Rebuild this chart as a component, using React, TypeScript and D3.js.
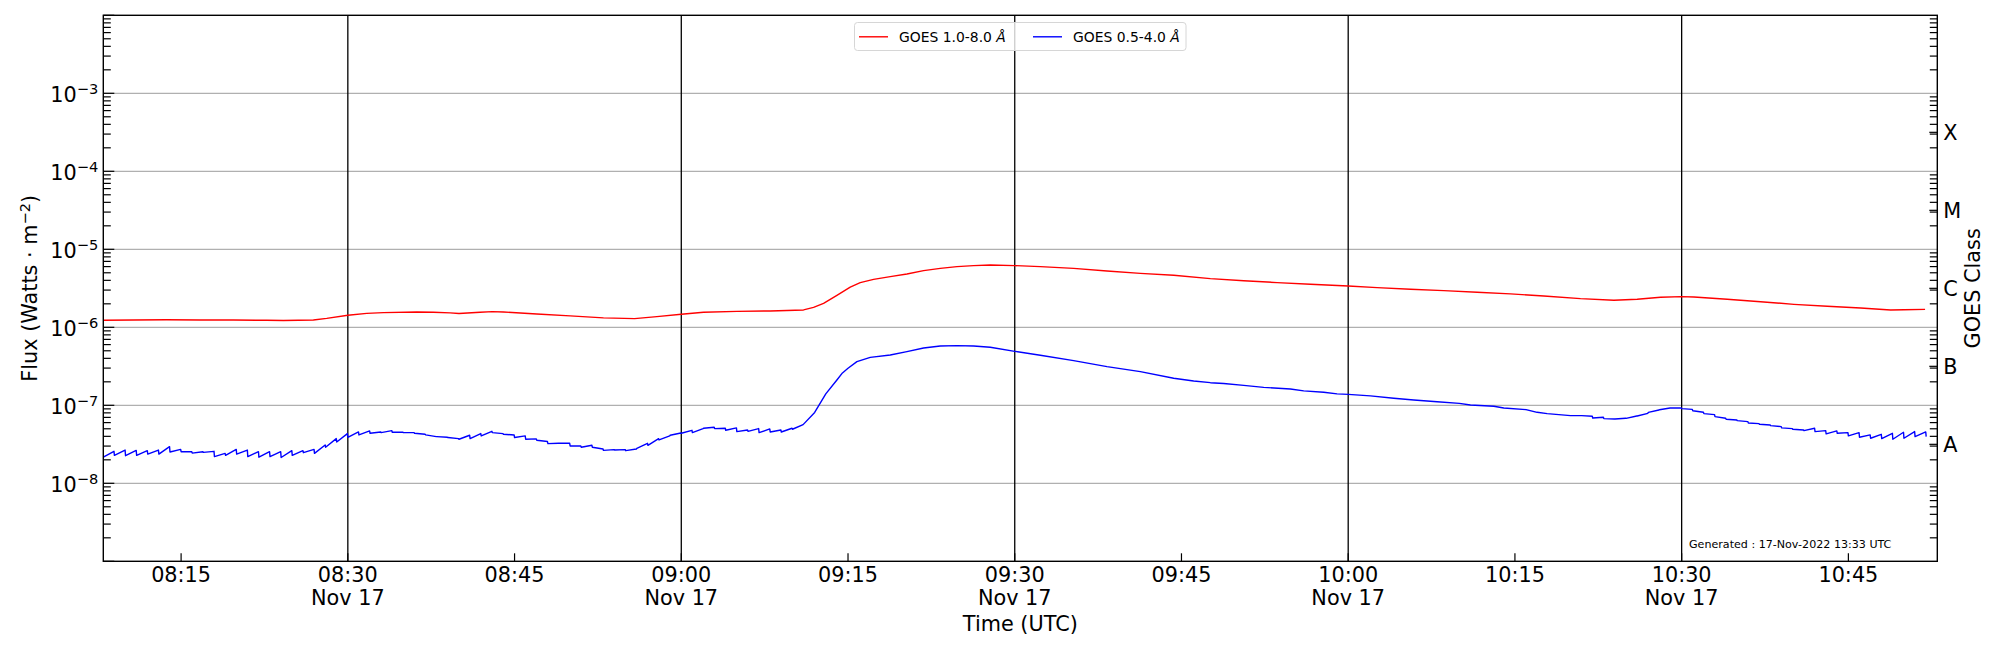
import { useRef, useEffect } from "react";
import * as d3 from "d3";

// Figure geometry (matplotlib-like axes box)
const WIDTH = 2000;
const HEIGHT = 650;
const PLOT = { left: 103.3, right: 1937.3, top: 15.3, bottom: 561.3 };
const FONT = "DejaVu Sans, sans-serif";
const LABEL_SIZE = 20.8;
const SUP_SIZE = 14.6;

// Time axis: minutes after 08:00 UTC on 17 Nov 2022
const DAY_START = Date.UTC(2022, 10, 17, 8, 0);
const X_RANGE_MIN = [8, 173];
const Y_DOMAIN: [number, number] = [1e-9, 1e-2];
const DATE_LABEL = "Nov 17";

const LABELED_DECADES = [-3, -4, -5, -6, -7, -8];
const CLASS_LABELS = ["A", "B", "C", "M", "X"];
const CLASS_FLUX = [3.16e-8, 3.16e-7, 3.16e-6, 3.16e-5, 3.16e-4];
const LEGEND_LABELS = ["GOES 1.0-8.0 ", "GOES 0.5-4.0 "];
const LEGEND_COLORS = ["#ff0000", "#0000ff"];
const GENERATED = "Generated : 17-Nov-2022 13:33 UTC";

// GOES 1.0-8.0 Å — [minute, flux]
const redFlux: [number, number][] = [
  [8, 1.23e-6], [10.7, 1.24e-6], [13.7, 1.25e-6], [16.7, 1.24e-6], [19.7, 1.24e-6],
  [22.7, 1.23e-6], [24.2, 1.22e-6], [26.9, 1.24e-6], [28.1, 1.3e-6], [30, 1.43e-6],
  [31.7, 1.51e-6], [33.2, 1.54e-6], [36.2, 1.57e-6], [37.7, 1.56e-6], [39.2, 1.53e-6],
  [40, 1.5e-6], [41.9, 1.56e-6], [43, 1.59e-6], [44, 1.57e-6], [47, 1.48e-6],
  [50, 1.4e-6], [53, 1.32e-6], [55.8, 1.29e-6], [57.8, 1.37e-6], [60, 1.47e-6],
  [62, 1.56e-6], [65, 1.6e-6], [68, 1.62e-6], [71, 1.67e-6], [71.9, 1.8e-6],
  [72.8, 2.03e-6], [74, 2.57e-6], [75.2, 3.28e-6], [76.1, 3.74e-6], [77.3, 4.12e-6],
  [78.8, 4.46e-6], [80.3, 4.83e-6], [81.8, 5.33e-6], [83.3, 5.7e-6], [84.8, 6.0e-6],
  [86.3, 6.18e-6], [87.8, 6.3e-6], [90, 6.18e-6], [92.3, 6.0e-6], [95.3, 5.7e-6],
  [98.3, 5.27e-6], [101.3, 4.92e-6], [104.3, 4.65e-6], [107.6, 4.21e-6], [110.6, 3.96e-6],
  [113.6, 3.74e-6], [116.6, 3.56e-6], [120, 3.39e-6], [122.6, 3.23e-6], [125.6, 3.07e-6],
  [128.6, 2.95e-6], [131.6, 2.81e-6], [134.6, 2.68e-6], [137.6, 2.52e-6], [140.9, 2.33e-6],
  [143.9, 2.22e-6], [146, 2.29e-6], [148.1, 2.43e-6], [150, 2.47e-6], [151.1, 2.45e-6],
  [154.1, 2.29e-6], [157.1, 2.13e-6], [160.1, 1.97e-6], [163.1, 1.86e-6], [166.1, 1.77e-6],
  [168.8, 1.67e-6], [170, 1.68e-6], [171.9, 1.7e-6],
];

// GOES 0.5-4.0 Å — sawtooth minutes: [minute, value after drop, value before next drop]
const blueSawEarly: [number, number, number][] = [
  [8, 2.16e-8, 2.57e-8], [9, 2.28e-8, 2.67e-8], [10, 2.26e-8, 2.64e-8], [11, 2.28e-8, 2.62e-8],
  [12, 2.37e-8, 2.67e-8], [13, 2.37e-8, 2.95e-8], [14, 2.52e-8, 2.72e-8], [15, 2.54e-8, 2.54e-8],
  [16, 2.44e-8, 2.54e-8], [17, 2.49e-8, 2.57e-8], [18, 2.2e-8, 2.42e-8], [19, 2.28e-8, 2.72e-8],
  [20, 2.37e-8, 2.67e-8], [21, 2.2e-8, 2.54e-8], [22, 2.16e-8, 2.54e-8], [23, 2.2e-8, 2.54e-8],
  [24, 2.14e-8, 2.62e-8], [25, 2.28e-8, 2.62e-8], [26, 2.47e-8, 2.72e-8], [27, 2.42e-8, 3.1e-8],
  [28, 2.9e-8, 3.74e-8], [29, 3.39e-8, 4.34e-8], [30, 3.89e-8, 4.55e-8], [31, 4.17e-8, 4.69e-8],
  [32, 4.38e-8, 4.55e-8], [33, 4.46e-8, 4.73e-8], [34, 4.51e-8, 4.51e-8], [35, 4.46e-8, 4.46e-8],
  [36, 4.38e-8, 4.25e-8], [37, 4.17e-8, 3.97e-8], [38, 3.97e-8, 3.89e-8], [39, 3.86e-8, 3.74e-8],
  [40, 3.67e-8, 4.13e-8], [41, 3.74e-8, 4.34e-8], [42, 4.05e-8, 4.64e-8], [43, 4.46e-8, 4.34e-8],
  [44, 4.25e-8, 4.17e-8], [45, 3.86e-8, 4.05e-8], [46, 3.67e-8, 3.71e-8], [47, 3.57e-8, 3.43e-8],
  [48, 3.23e-8, 3.26e-8], [49, 3.26e-8, 3.26e-8], [50, 3.01e-8, 3.01e-8], [51, 2.9e-8, 3.07e-8],
  [52, 2.9e-8, 2.75e-8], [53, 2.64e-8, 2.7e-8], [54, 2.67e-8, 2.7e-8], [55, 2.62e-8, 2.75e-8],
  [56, 2.81e-8, 3.26e-8], [57, 3.07e-8, 3.74e-8], [58, 3.6e-8, 4.05e-8], [59, 4.13e-8, 4.42e-8],
  [60, 4.38e-8, 4.78e-8], [61, 4.46e-8, 5.03e-8], [62, 5.08e-8, 5.22e-8], [63, 5.03e-8, 5.08e-8],
  [64, 4.78e-8, 5.13e-8], [65, 4.6e-8, 4.83e-8], [66, 4.64e-8, 5.03e-8], [67, 4.46e-8, 4.98e-8],
  [68, 4.55e-8, 4.83e-8], [69, 4.55e-8, 5.08e-8], [70, 4.93e-8, 5.65e-8],
];

// GOES 0.5-4.0 Å — smooth stretch around the flare: [minute, flux]
const blueSmooth: [number, number][] = [
  [72, 8.1e-8], [73, 1.4e-7], [74, 2.11e-7], [74.5, 2.6e-7], [75, 2.98e-7], [75.8, 3.63e-7],
  [77, 4.12e-7], [78.8, 4.42e-7], [80.3, 4.88e-7], [81.8, 5.43e-7], [83.3, 5.76e-7],
  [84.8, 5.82e-7], [86.3, 5.76e-7], [87.8, 5.55e-7], [90, 4.92e-7], [92.3, 4.38e-7],
  [95.3, 3.74e-7], [98.3, 3.13e-7], [101.3, 2.7e-7], [104.3, 2.22e-7], [106.1, 2.05e-7],
  [107.6, 1.95e-7], [108.8, 1.9e-7], [110.6, 1.8e-7], [112.4, 1.7e-7], [114.8, 1.62e-7],
  [116, 1.53e-7], [117.8, 1.47e-7], [119, 1.4e-7], [120, 1.38e-7], [122, 1.32e-7],
  [124.1, 1.23e-7], [125.9, 1.17e-7], [128, 1.11e-7], [130, 1.06e-7], [131, 1.01e-7],
  [133.1, 9.71e-8], [134, 9.24e-8], [136, 8.8e-8], [137, 8.13e-8], [137.9, 7.82e-8],
  [140, 7.38e-8],
];

const blueSawLate: [number, number, number][] = [
  [141, 7.37e-8, 7.23e-8], [142, 6.88e-8, 7.02e-8], [143, 6.75e-8, 6.68e-8], [144, 6.68e-8, 6.81e-8],
  [145, 6.81e-8, 7.3e-8], [146, 7.3e-8, 7.89e-8], [147, 8.13e-8, 8.7e-8], [148, 8.78e-8, 9.24e-8],
  [149, 9.24e-8, 9.24e-8], [150, 9.06e-8, 8.87e-8], [151, 8.52e-8, 8.13e-8], [152, 7.82e-8, 7.59e-8],
  [153, 7.16e-8, 6.81e-8], [154, 6.62e-8, 6.49e-8], [155, 6.36e-8, 6.18e-8], [156, 5.94e-8, 5.82e-8],
  [157, 5.71e-8, 5.6e-8], [158, 5.49e-8, 5.33e-8], [159, 5.13e-8, 5.03e-8], [160, 4.93e-8, 4.83e-8],
  [161, 4.73e-8, 5.08e-8], [162, 4.6e-8, 4.73e-8], [163, 4.3e-8, 4.69e-8], [164, 4.38e-8, 4.46e-8],
  [165, 4.05e-8, 4.46e-8], [166, 3.89e-8, 4.17e-8], [167, 3.78e-8, 4.25e-8], [168, 3.74e-8, 4.38e-8],
  [169, 3.67e-8, 4.51e-8], [170, 3.78e-8, 4.6e-8], [171, 3.97e-8, 4.55e-8],
];
const blueTail: [number, number][] = [[172, 3.97e-8]];

// fraction of a minute over which each sawtooth ramp rises before the drop
const RAMP = 0.96;

const toDate = (m: number) => new Date(DAY_START + m * 60000);

export default function App() {
  const svgRef = useRef<SVGSVGElement>(null);

  useEffect(() => {
    if (!svgRef.current) return;
    const svg = d3.select(svgRef.current);
    svg.selectAll("*").remove();

    const x = d3
      .scaleUtc()
      .domain(X_RANGE_MIN.map(toDate))
      .range([PLOT.left, PLOT.right]);
    const y = d3.scaleLog().domain(Y_DOMAIN).range([PLOT.bottom, PLOT.top]);

    svg.append("rect").attr("width", WIDTH).attr("height", HEIGHT).attr("fill", "#fff");

    svg
      .append("clipPath")
      .attr("id", "plot-clip")
      .append("rect")
      .attr("x", PLOT.left)
      .attr("y", PLOT.top)
      .attr("width", PLOT.right - PLOT.left)
      .attr("height", PLOT.bottom - PLOT.top);

    // horizontal gridlines at labelled decades
    svg
      .append("g")
      .selectAll("line")
      .data(LABELED_DECADES)
      .join("line")
      .attr("x1", PLOT.left)
      .attr("x2", PLOT.right)
      .attr("y1", (k) => y(10 ** k))
      .attr("y2", (k) => y(10 ** k))
      .attr("stroke", "#b0b0b0")
      .attr("stroke-width", 1.2);

    const quarterTicks = x.ticks(d3.utcMinute.every(15)!);
    const halfHours = quarterTicks.filter((d) => d.getUTCMinutes() % 30 === 0);

    // vertical black lines on the half hours
    svg
      .append("g")
      .selectAll("line")
      .data(halfHours)
      .join("line")
      .attr("x1", (d) => x(d))
      .attr("x2", (d) => x(d))
      .attr("y1", PLOT.top)
      .attr("y2", PLOT.bottom)
      .attr("stroke", "#000")
      .attr("stroke-width", 1.3);

    // series
    const line = d3
      .line<[number, number]>()
      .x((d) => x(toDate(d[0])))
      .y((d) => y(d[1]));

    const saw = (rows: [number, number, number][]) =>
      rows.flatMap(([m, a, b]) => [
        [m, a] as [number, number],
        [m + RAMP, b] as [number, number],
      ]);
    const blueFlux: [number, number][] = [
      ...saw(blueSawEarly),
      ...blueSmooth,
      ...saw(blueSawLate),
      ...blueTail,
    ];

    const series = svg.append("g").attr("clip-path", "url(#plot-clip)");
    [redFlux, blueFlux].forEach((data, i) => {
      series
        .append("path")
        .attr("d", line(data))
        .attr("fill", "none")
        .attr("stroke", LEGEND_COLORS[i])
        .attr("stroke-width", 1.4)
        .attr("stroke-linejoin", "round");
    });

    // ticks (all point inward)
    const ticks = svg.append("g").attr("stroke", "#000").attr("stroke-width", 1.2);
    const decades = d3.range(-9, -1);
    const minors = d3.range(-9, -2).flatMap((k) => d3.range(2, 10).map((j) => j * 10 ** k));

    ticks
      .selectAll("line.ymaj")
      .data(decades)
      .join("line")
      .attr("class", "ymaj")
      .attr("x1", PLOT.left)
      .attr("x2", PLOT.left + 11)
      .attr("y1", (k) => y(10 ** k))
      .attr("y2", (k) => y(10 ** k));

    ticks
      .selectAll("line.ymin")
      .data(minors)
      .join("line")
      .attr("class", "ymin")
      .attr("x1", PLOT.left)
      .attr("x2", PLOT.left + 7.5)
      .attr("y1", (v) => y(v))
      .attr("y2", (v) => y(v));

    ticks
      .selectAll("line.rmin")
      .data(minors)
      .join("line")
      .attr("class", "rmin")
      .attr("x1", PLOT.right)
      .attr("x2", PLOT.right - 7.5)
      .attr("y1", (v) => y(v))
      .attr("y2", (v) => y(v));

    ticks
      .selectAll("line.rcls")
      .data(CLASS_FLUX)
      .join("line")
      .attr("class", "rcls")
      .attr("x1", PLOT.right)
      .attr("x2", PLOT.right - 8)
      .attr("y1", (v) => y(v))
      .attr("y2", (v) => y(v));

    ticks
      .selectAll("line.xt")
      .data(quarterTicks)
      .join("line")
      .attr("class", "xt")
      .attr("x1", (d) => x(d))
      .attr("x2", (d) => x(d))
      .attr("y1", PLOT.bottom)
      .attr("y2", PLOT.bottom - 8);

    // axes frame
    svg
      .append("rect")
      .attr("x", PLOT.left)
      .attr("y", PLOT.top)
      .attr("width", PLOT.right - PLOT.left)
      .attr("height", PLOT.bottom - PLOT.top)
      .attr("fill", "none")
      .attr("stroke", "#000")
      .attr("stroke-width", 1.4);

    const text = svg.append("g").attr("font-family", FONT).attr("fill", "#000");

    // y tick labels 10^k
    const yLabels = text
      .selectAll("text.ylab")
      .data(LABELED_DECADES)
      .join("text")
      .attr("class", "ylab")
      .attr("x", PLOT.left - 5)
      .attr("y", (k) => y(10 ** k) + 8.4)
      .attr("text-anchor", "end")
      .attr("font-size", LABEL_SIZE);
    yLabels.append("tspan").text("10");
    yLabels
      .append("tspan")
      .attr("dy", -7.5)
      .attr("font-size", SUP_SIZE)
      .text((k) => `\u2212${-k}`);

    // x tick labels
    const fmt = d3.utcFormat("%H:%M");
    text
      .selectAll("text.xlab")
      .data(quarterTicks)
      .join("text")
      .attr("class", "xlab")
      .attr("x", (d) => x(d))
      .attr("y", PLOT.bottom + 20.6)
      .attr("text-anchor", "middle")
      .attr("font-size", LABEL_SIZE)
      .text((d) => fmt(d));

    text
      .selectAll("text.xdate")
      .data(halfHours)
      .join("text")
      .attr("class", "xdate")
      .attr("x", (d) => x(d))
      .attr("y", PLOT.bottom + 43.9)
      .attr("text-anchor", "middle")
      .attr("font-size", LABEL_SIZE)
      .text(DATE_LABEL);

    text
      .append("text")
      .attr("x", (PLOT.left + PLOT.right) / 2)
      .attr("y", PLOT.bottom + 69.6)
      .attr("text-anchor", "middle")
      .attr("font-size", LABEL_SIZE)
      .text("Time (UTC)");

    // left axis label
    const midY = (PLOT.top + PLOT.bottom) / 2;
    const yTitle = text
      .append("text")
      .attr("transform", `translate(37,${midY}) rotate(-90)`)
      .attr("text-anchor", "middle")
      .attr("font-size", LABEL_SIZE);
    yTitle.append("tspan").text("Flux (Watts \u00b7 m");
    yTitle.append("tspan").attr("dy", -7.5).attr("font-size", SUP_SIZE).text("\u22122");
    yTitle.append("tspan").attr("dy", 7.5).text(")");

    // GOES class labels on the right
    text
      .selectAll("text.cls")
      .data(CLASS_LABELS)
      .join("text")
      .attr("class", "cls")
      .attr("x", PLOT.right + 6)
      .attr("y", (_, i) => y(CLASS_FLUX[i]))
      .attr("dy", "0.36em")
      .attr("font-size", LABEL_SIZE)
      .text((d) => d);

    text
      .append("text")
      .attr("transform", `translate(1980,${midY}) rotate(-90)`)
      .attr("text-anchor", "middle")
      .attr("font-size", LABEL_SIZE)
      .text("GOES Class");

    text
      .append("text")
      .attr("x", 1689)
      .attr("y", 548)
      .attr("font-size", 11.1)
      .text(GENERATED);

    // legend
    const legend = svg.append("g").attr("font-family", FONT);
    legend
      .append("rect")
      .attr("x", 854.5)
      .attr("y", 22.5)
      .attr("width", 331.5)
      .attr("height", 28)
      .attr("rx", 3)
      .attr("fill", "#fff")
      .attr("fill-opacity", 0.8)
      .attr("stroke", "#d6d6d6")
      .attr("stroke-width", 1);

    const entryX = [859, 1033];
    LEGEND_LABELS.forEach((label, i) => {
      legend
        .append("line")
        .attr("x1", entryX[i])
        .attr("x2", entryX[i] + 29)
        .attr("y1", 36.8)
        .attr("y2", 36.8)
        .attr("stroke", LEGEND_COLORS[i])
        .attr("stroke-width", 1.4);
      const t = legend
        .append("text")
        .attr("x", entryX[i] + 40)
        .attr("y", 41.8)
        .attr("font-size", 13.9)
        .attr("fill", "#000");
      t.append("tspan").text(label);
      t.append("tspan").attr("font-style", "italic").text("\u00c5");
    });
  }, []);

  return (
    <svg
      ref={svgRef}
      width={WIDTH}
      height={HEIGHT}
      style={{ position: "absolute", left: 0, top: 0 }}
    />
  );
}
